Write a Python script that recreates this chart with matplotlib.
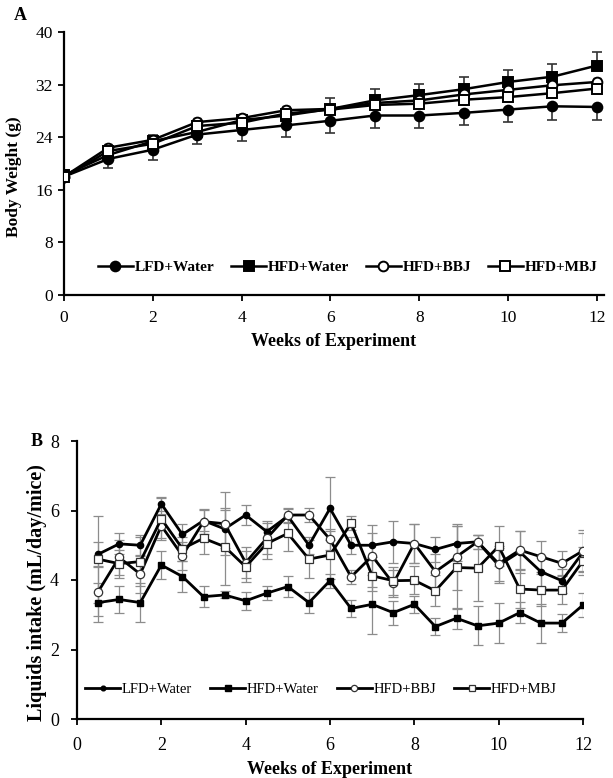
import matplotlib
matplotlib.use("Agg")
import matplotlib.pyplot as plt
from matplotlib.lines import Line2D

plt.rcParams['font.family'] = ['Liberation Serif', 'DejaVu Serif']

# ---------------- Panel A data ----------------
weeks_a = [0, 1, 2, 3, 4, 5, 6, 7, 8, 9, 10, 11, 12]
lfd_water_a = [18.0, 20.7, 22.1, 24.4, 25.1, 25.8, 26.5, 27.3, 27.3, 27.7, 28.2, 28.7, 28.6]
hfd_water_a = [18.2, 21.3, 23.4, 24.8, 26.6, 27.3, 28.3, 29.6, 30.4, 31.3, 32.4, 33.2, 34.9]
hfd_bbj_a = [18.0, 22.4, 23.6, 26.3, 26.9, 28.1, 28.3, 29.2, 29.6, 30.5, 31.2, 31.9, 32.4]
hfd_mbj_a = [17.9, 21.9, 23.0, 25.7, 26.2, 27.6, 28.2, 28.9, 29.1, 29.7, 30.1, 30.7, 31.4]
lfd_err_low_a = [0.8, 1.4, 1.6, 1.5, 1.7, 1.8, 1.8, 1.9, 1.9, 1.9, 1.9, 2.1, 2.0]
hfd_err_up_a = [0.8, 0.9, 1.0, 1.0, 0.8, 0.9, 1.7, 1.8, 1.7, 1.8, 1.8, 2.0, 2.0]
bbj_err_a = [0.6, 0.6, 0.6, 0.6, 0.6, 0.6, 0.6, 0.6, 0.6, 0.6, 0.6, 0.6, 0.6]
mbj_err_a = [0.6, 0.6, 0.6, 0.6, 0.6, 0.6, 0.6, 0.6, 0.6, 0.6, 0.6, 0.6, 0.6]

# ---------------- Panel B data ----------------
weeks_b = [0.5, 1.0, 1.5, 2.0, 2.5, 3.0, 3.5, 4.0, 4.5, 5.0, 5.5, 6.0,
           6.5, 7.0, 7.5, 8.0, 8.5, 9.0, 9.5, 10.0, 10.5, 11.0, 11.5, 12.0]
lfd_water_b = [4.74, 5.04, 5.00, 6.19, 5.31, 5.71, 5.47, 5.87, 5.39, 5.84, 5.00, 6.06,
               5.00, 5.00, 5.10, 5.05, 4.88, 5.05, 5.10, 4.42, 4.81, 4.24, 3.98, 4.80]
hfd_water_b = [3.35, 3.44, 3.35, 4.43, 4.10, 3.52, 3.57, 3.40, 3.62, 3.81, 3.35, 3.98,
               3.18, 3.30, 3.06, 3.30, 2.66, 2.90, 2.68, 2.76, 3.06, 2.76, 2.76, 3.28]
hfd_bbj_b = [3.66, 4.65, 4.17, 5.56, 4.70, 5.68, 5.62, 4.50, 5.20, 5.87, 5.87, 5.17,
             4.09, 4.69, 3.90, 5.05, 4.24, 4.67, 5.10, 4.47, 4.86, 4.67, 4.48, 4.84]
hfd_mbj_b = [4.60, 4.47, 4.53, 5.76, 4.90, 5.20, 4.96, 4.38, 5.05, 5.34, 4.60, 4.72,
             5.63, 4.12, 3.98, 3.99, 3.69, 4.36, 4.34, 4.97, 3.74, 3.71, 3.71, 4.55]
lfd_err_b = [0.35, 0.30, 0.30, 0.20, 0.30, 0.30, 0.55, 0.30, 0.30, 0.20, 0.25, 0.90,
             0.25, 0.35, 0.60, 0.55, 0.35, 0.50, 0.20, 0.50, 0.60, 0.45, 0.35, 0.55]
hfd_err_b = [0.55, 0.40, 0.55, 0.40, 0.45, 0.30, 0.10, 0.25, 0.20, 0.30, 0.30, 0.20,
             0.25, 0.85, 0.35, 0.25, 0.25, 0.30, 0.56, 0.57, 0.30, 0.56, 0.25, 0.35]
bbj_err_b = [0.70, 0.50, 0.55, 0.35, 0.40, 0.35, 0.90, 0.45, 0.45, 0.20, 0.20, 0.30,
             0.20, 0.90, 0.40, 0.55, 0.50, 0.95, 0.20, 0.50, 0.55, 0.45, 0.35, 0.60]
mbj_err_b = [1.25, 0.40, 0.70, 0.60, 0.35, 0.45, 1.10, 0.45, 0.45, 0.50, 0.55, 0.70,
             0.20, 0.45, 0.40, 0.40, 0.45, 1.20, 0.95, 0.58, 0.55, 0.45, 0.40, 0.40]

labels = ['LFD+Water', 'HFD+Water', 'HFD+BBJ', 'HFD+MBJ']
zeros_a = [0] * len(weeks_a)

fig = plt.figure(figsize=(6.13, 7.78), dpi=100)
W, H = 613, 778


def add_ax(x0, y_top, x1, y_bot):
    return fig.add_axes([x0 / W, 1 - y_bot / H, (x1 - x0) / W, (y_bot - y_top) / H])


def style_axes(ax, xpad, ypad, size):
    for s in ['top', 'right']:
        ax.spines[s].set_visible(False)
    for s in ['left', 'bottom']:
        ax.spines[s].set_linewidth(1.6)
    ax.tick_params(direction='out', length=4, width=1.3, labelsize=size)
    ax.tick_params(axis='x', pad=xpad)
    ax.tick_params(axis='y', pad=ypad)


# ================= Panel A =================
axA = add_ax(64, 32, 604, 295)
style_axes(axA, 7, 4, 12.5)
ecA = '#333333'
axA.errorbar(weeks_a, lfd_water_a, yerr=[lfd_err_low_a, zeros_a], fmt='none',
             ecolor=ecA, elinewidth=1.2, capsize=3.5, capthick=1.2, zorder=1)
axA.errorbar(weeks_a, hfd_water_a, yerr=[zeros_a, hfd_err_up_a], fmt='none',
             ecolor=ecA, elinewidth=1.2, capsize=3.5, capthick=1.2, zorder=1)
axA.errorbar(weeks_a, hfd_bbj_a, yerr=bbj_err_a, fmt='none',
             ecolor=ecA, elinewidth=1.0, capsize=3, capthick=1.0, zorder=1)
axA.errorbar(weeks_a, hfd_mbj_a, yerr=mbj_err_a, fmt='none',
             ecolor=ecA, elinewidth=1.0, capsize=3, capthick=1.0, zorder=1)

styleA = [
    dict(marker='o', mfc='black', mec='black'),
    dict(marker='s', mfc='black', mec='black'),
    dict(marker='o', mfc='white', mec='black'),
    dict(marker='s', mfc='white', mec='black'),
]
seriesA = [lfd_water_a, hfd_water_a, hfd_bbj_a, hfd_mbj_a]
for ys, st in zip(seriesA, styleA):
    axA.plot(weeks_a, ys, color='black', lw=1.8, ms=7, mew=1.4, zorder=3, **st)

axA.set_xlim(0, 12.16)
axA.set_ylim(0, 40)
axA.set_xticks([0, 2, 4, 6, 8, 10, 12])
axA.set_yticks([0, 8, 16, 24, 32, 40])
axA.set_xlabel('Weeks of Experiment', fontsize=13, fontweight='bold', labelpad=5)
axA.set_ylabel('Body Weight (g)', fontsize=12.5, fontweight='bold')
axA.yaxis.set_label_coords(-0.078, 0.45)

handlesA = [Line2D([], [], color='black', lw=1.8, ms=7, mew=1.4, **st) for st in styleA]
axA.legend(handlesA, labels, ncol=4, loc='center', bbox_to_anchor=(0.525, 0.105),
           frameon=False, handlelength=2.3, handletextpad=0.1, columnspacing=1.1,
           prop={'weight': 'bold', 'size': 11})
fig.text(14 / W, 1 - 16 / H, 'A', fontsize=13, fontweight='bold', va='center', ha='left')

# ================= Panel B =================
axB = add_ax(77, 441, 583, 719)
style_axes(axB, 9, 9, 13)
ecB = '#8c8c8c'
for ys, err in zip([lfd_water_b, hfd_water_b, hfd_bbj_b, hfd_mbj_b],
                   [lfd_err_b, hfd_err_b, bbj_err_b, mbj_err_b]):
    axB.errorbar(weeks_b, ys, yerr=err, fmt='none', ecolor=ecB, elinewidth=0.9,
                 capsize=3.5, capthick=0.9, zorder=1)

styleB = [
    dict(marker='o', mfc='black', mec='black', ms=4.5, mew=1.0),
    dict(marker='s', mfc='black', mec='black', ms=5, mew=1.0),
    dict(marker='o', mfc='white', mec='#333333', ms=6, mew=0.9),
    dict(marker='s', mfc='white', mec='#333333', ms=6, mew=0.9),
]
seriesB = [lfd_water_b, hfd_water_b, hfd_bbj_b, hfd_mbj_b]
for ys, st in zip(seriesB, styleB):
    axB.plot(weeks_b, ys, color='black', lw=2.0, zorder=3, **st)

axB.set_xlim(0, 12)
axB.set_ylim(0, 8)
axB.set_xticks([0, 2, 4, 6, 8, 10, 12])
axB.set_yticks([0, 2, 4, 6, 8])
axB.set_xlabel('Weeks of Experiment', fontsize=13, fontweight='bold', labelpad=5)
axB.set_ylabel('Liquids intake (mL/day/mice)', fontsize=14.5, fontweight='bold')
axB.yaxis.set_label_coords(-0.06, 0.455)

handlesB = [Line2D([], [], color='black', lw=2.0, **dict(st, ms=st['ms'] * 0.75)) for st in styleB]
axB.legend(handlesB, labels, ncol=4, loc='center', bbox_to_anchor=(0.482, 0.105),
           frameon=False, handlelength=2.4, handletextpad=0.1, columnspacing=1.25,
           prop={'size': 10.5})
fig.text(31 / W, 1 - 441 / H, 'B', fontsize=13, fontweight='bold', va='center', ha='left')

fig.savefig('out.png', dpi=100)
